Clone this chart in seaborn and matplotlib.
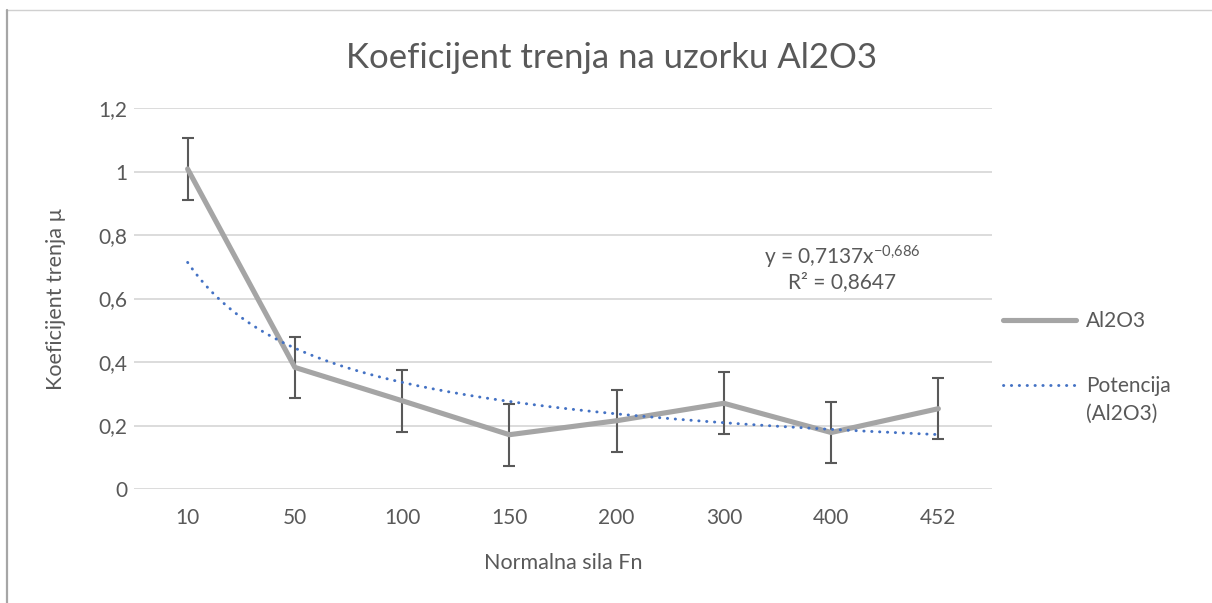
import numpy as np
import pandas as pd
import matplotlib
matplotlib.use("Agg")
import matplotlib.pyplot as plt
from matplotlib.lines import Line2D
import seaborn as sns

# Friction coefficient measured on the Al2O3 sample
loads = ["10", "50", "100", "150", "200", "300", "400", "452"]
mu = [1.008, 0.383, 0.278, 0.171, 0.215, 0.270, 0.178, 0.253]
mu_err = [0.097, 0.097, 0.097, 0.097, 0.097, 0.097, 0.097, 0.097]

# Power trendline over category index (y = a * x^b)
trend_a = 0.7137
trend_b = -0.686
trend_r2 = 0.8647

TEXT = "#595959"
GRID = "#d9d9d9"
SERIES = "#a5a5a5"
TREND = "#4472c4"
FS = 15

sns.set_theme(style="white")
plt.rcParams["font.family"] = ["Lato", "DejaVu Sans"]
plt.rcParams["mathtext.fontset"] = "custom"
plt.rcParams["mathtext.rm"] = "Lato"
plt.rcParams["mathtext.it"] = "Lato"
plt.rcParams["axes.unicode_minus"] = False

df = pd.DataFrame({"Fn": loads, "mu": mu, "err": mu_err})
pos = np.arange(len(loads))

fig = plt.figure(figsize=(12.12, 6.03), dpi=100)
W, H = 1212, 603
ax = fig.add_axes([134 / W, 1 - 489 / H, (992 - 134) / W, (489 - 108) / H])

ax.errorbar(pos, df["mu"], yerr=df["err"], fmt="none", ecolor=TEXT,
            elinewidth=1.5, capsize=4, capthick=1.5, zorder=3)
sns.lineplot(data=df, x="Fn", y="mu", ax=ax, color=SERIES, linewidth=3.7,
             sort=False, zorder=4, legend=False)
ax.lines[-1].set_solid_capstyle("round")
ax.lines[-1].set_solid_joinstyle("round")

dots = (0, (0.1, 2.6))
xs = np.linspace(1, len(loads), 300)
ax.plot(xs - 1, trend_a * xs ** trend_b, color=TREND, linewidth=2.1,
        linestyle=dots, dash_capstyle="round", zorder=5)

ax.set_xlim(-0.5, len(loads) - 0.5)
ax.set_ylim(0, 1.2)
ax.set_yticks(np.arange(0, 1.21, 0.2))
ax.set_yticklabels(["0", "0,2", "0,4", "0,6", "0,8", "1", "1,2"])
ax.grid(axis="y", color=GRID, linewidth=1.3)
ax.grid(axis="x", visible=False)
for s in ax.spines.values():
    s.set_visible(False)
ax.tick_params(axis="both", length=0, labelsize=FS, labelcolor=TEXT)
ax.tick_params(axis="y", pad=5)
ax.tick_params(axis="x", pad=14)

ax.set_xlabel("Normalna sila Fn", fontsize=FS + 0.5, color=TEXT)
ax.set_ylabel("Koeficijent trenja µ", fontsize=FS + 0.5, color=TEXT)
ax.xaxis.set_label_coords(0.5, -(563 - 489) / 381, transform=ax.transAxes)
ax.yaxis.set_label_coords(-(134 - 56) / 858, 0.5, transform=ax.transAxes)
ax.xaxis.label.set_va("center")
ax.yaxis.label.set_va("center")

fig.text(612 / W, 1 - 58 / H, "Koeficijent trenja na uzorku Al2O3",
         ha="center", va="center", fontsize=25, color=TEXT)

exp_txt = f"{trend_b:.3f}".replace(".", "{,}")
ax.text(6.1, 0.708, f"y = {trend_a:.4f}".replace(".", ",") + "x$^{\\mathrm{" + exp_txt + "}}$",
        ha="center", va="baseline", fontsize=FS, color=TEXT)
ax.text(6.1, 0.633, f"R² = {trend_r2:.4f}".replace(".", ","),
        ha="center", va="baseline", fontsize=FS, color=TEXT)

handles = [
    Line2D([], [], color=SERIES, linewidth=3.7, solid_capstyle="round"),
    Line2D([], [], color=TREND, linewidth=2.1, linestyle=dots,
           dash_capstyle="round"),
]
leg = fig.legend(handles, ["Al2O3", "Potencija"], loc="upper left",
                 bbox_to_anchor=(995 / W, 1 - 303 / H), frameon=False,
                 fontsize=FS, handlelength=3.5, handletextpad=0.45,
                 labelspacing=2.15, labelcolor=TEXT, borderaxespad=0)

# second line of the trendline entry, aligned under its label
fig.canvas.draw()
bb = leg.get_texts()[1].get_window_extent()
fig.text(bb.x0 / W, (bb.y0 + bb.y1) / 2 / H - 28 / H, "(Al2O3)",
         ha="left", va="center", fontsize=FS, color=TEXT)

# chart frame
fig.add_artist(Line2D([6 / W, 1], [1 - 10 / H, 1 - 10 / H], color="#d0d0d0",
                      linewidth=1.0, transform=fig.transFigure))
fig.add_artist(Line2D([7 / W, 7 / W], [0, 1 - 10 / H], color="#a6a6a6",
                      linewidth=1.6, transform=fig.transFigure))

fig.savefig("out.png", dpi=100)
